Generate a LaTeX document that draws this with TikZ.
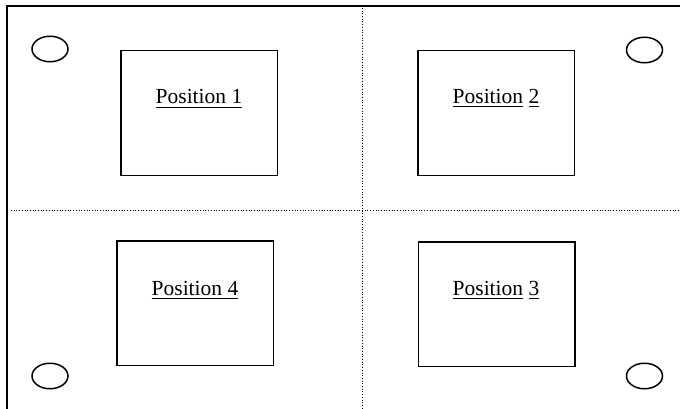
\documentclass[tikz,border=0pt]{standalone}
\usepackage{fontspec}
\setmainfont{Liberation Serif}
\usetikzlibrary{shapes.geometric}
\newsavebox\myulbox
\newcommand\myul[1]{\sbox\myulbox{#1}\rlap{\rule[-3.6pt]{\wd\myulbox}{1pt}}\usebox\myulbox}
\begin{document}
\begin{tikzpicture}[x=1pt,y=-1pt,
  posbox/.style={draw, line width=1.5pt, rectangle, minimum width=156.5pt, minimum height=124.5pt, inner sep=0pt},
  postext/.style={anchor=base, inner sep=0pt, font=\fontsize{21.5}{26}\selectfont},
  hole/.style={draw, line width=1.5pt, ellipse, minimum width=36pt, minimum height=25.5pt, inner sep=0pt},
  frame/.style={line width=2pt},
  divider/.style={line width=1pt, dash pattern=on 1pt off 1.7pt}]
\useasboundingbox (0,0) rectangle (680,409);
% frame
\coordinate (fa) at (7,409);
\coordinate (fb) at (7,6);
\coordinate (fc) at (680,6);
\draw[frame] (fa) -- (fb) -- (fc);
% dividers
\coordinate (vt) at (362,8);
\coordinate (vb) at (362,409);
\coordinate (hl) at (11,210);
\coordinate (hr) at (680,210);
\draw[divider] (vt) -- (vb);
\draw[divider] (hl) -- (hr);
% holes
\node[hole] (h1) at (50,49) {};
\node[hole] (h2) at (644.5,50) {};
\node[hole] (h4) at (50,376) {};
\node[hole] (h3) at (644.5,376) {};
% boxes
\node[posbox] (p1) at (199,113) {};
\node[posbox] (p2) at (496,113) {};
\node[posbox] (p4) at (195,303) {};
\node[posbox] (p3) at (496.5,304) {};
% labels
\node[postext] (t1) at (199,104) {\myul{Position 1}};
\node[postext] (t2) at (496,103.5) {\myul{Position} \myul{2}};
\node[postext] (t4) at (195,295) {\myul{Position 4}};
\node[postext] (t3) at (496,295) {\myul{Position} \myul{3}};
\end{tikzpicture}
\end{document}
